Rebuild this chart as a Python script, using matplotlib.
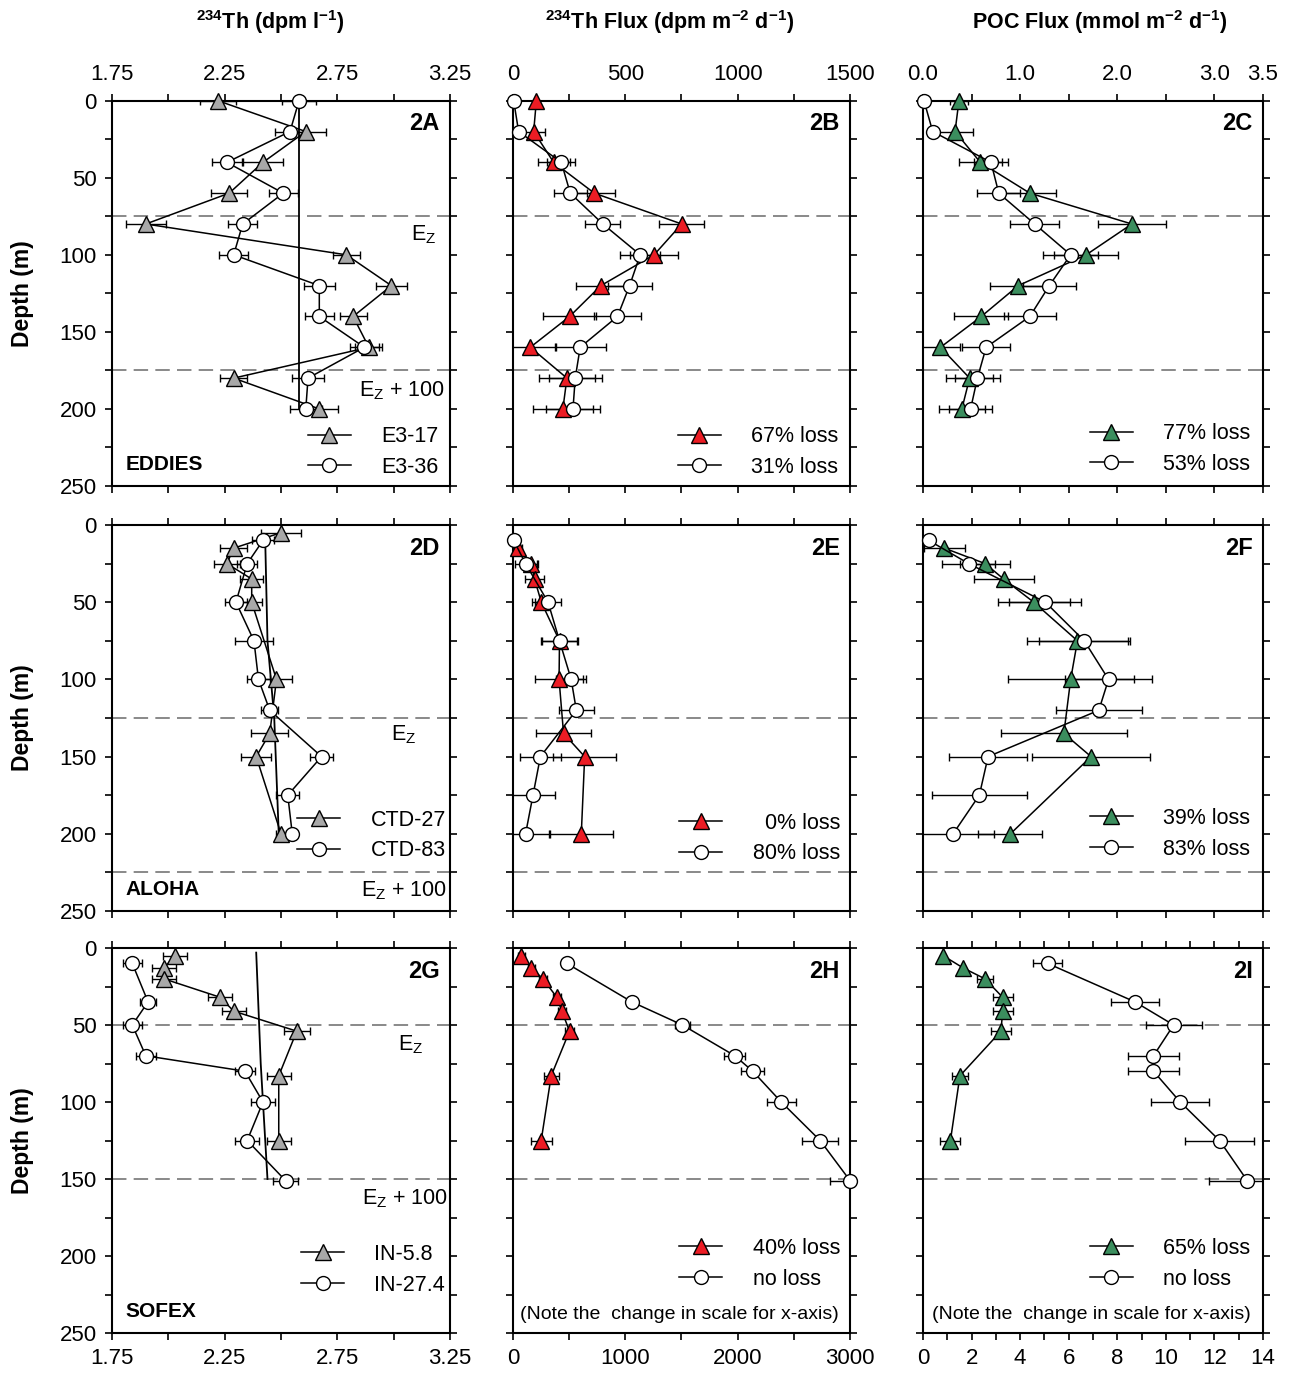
import numpy as np
import matplotlib
matplotlib.use('Agg')
import matplotlib.pyplot as plt
from matplotlib.ticker import MultipleLocator, FixedLocator

plt.rcParams['font.family'] = ['Liberation Sans', 'DejaVu Sans']

GRAY = '#a8a8a8'
RED = '#ec1c24'
GREEN = '#3b8e5e'

# ---- EDDIES (row 1) ----
eddy_depth = [0, 20, 40, 60, 80, 100, 120, 140, 160, 180, 200]
a_tri = [2.22, 2.61, 2.42, 2.27, 1.90, 2.79, 2.99, 2.82, 2.89, 2.29, 2.67]
a_tri_err = [0.08, 0.09, 0.09, 0.08, 0.09, 0.06, 0.07, 0.06, 0.06, 0.06, 0.085]
a_cir = [2.58, 2.54, 2.26, 2.51, 2.33, 2.29, 2.67, 2.67, 2.87, 2.62, 2.61]
a_cir_err = [0.075, 0.065, 0.065, 0.065, 0.065, 0.065, 0.07, 0.065, 0.065, 0.07, 0.07]
a_u238 = [2.58, 2.58]
a_u238_depth = [0, 200]

b_tri = [104, 92, 181, 362, 751, 628, 391, 252, 77, 240, 222]
b_tri_err = [0, 52, 71, 92, 99, 108, 111, 119, 115, 123, 133]
b_cir = [3, 25, 215, 255, 400, 566, 519, 465, 299, 277, 267]
b_cir_err = [0, 0, 63, 74, 78, 90, 98, 106, 114, 118, 122]

c_tri = [0.37, 0.33, 0.59, 1.10, 2.15, 1.68, 0.98, 0.60, 0.18, 0.48, 0.40]
c_tri_err = [0.09, 0.18, 0.22, 0.27, 0.35, 0.33, 0.29, 0.28, 0.20, 0.24, 0.24]
c_cir = [0.01, 0.10, 0.70, 0.78, 1.15, 1.52, 1.30, 1.10, 0.65, 0.56, 0.49]
c_cir_err = [0, 0, 0.18, 0.22, 0.25, 0.28, 0.27, 0.27, 0.25, 0.23, 0.22]

# ---- ALOHA (row 2) ----
aloha_tri_depth = [5, 15, 25, 35, 50, 100, 135, 150, 200]
aloha_cir_depth = [10, 25, 50, 75, 100, 120, 150, 175, 200]
d_tri = [2.50, 2.29, 2.26, 2.37, 2.37, 2.48, 2.45, 2.39, 2.50]
d_tri_err = [0.09, 0.06, 0.056, 0.05, 0.045, 0.067, 0.083, 0.067, 0.02]
d_cir = [2.42, 2.35, 2.30, 2.38, 2.40, 2.45, 2.68, 2.53, 2.55]
d_cir_err = [0.05, 0.045, 0.048, 0.083, 0.052, 0.037, 0.052, 0.052, 0.02]
d_u238 = [2.43, 2.44, 2.47, 2.49]
d_u238_depth = [10, 75, 125, 200]

aloha_e_tri_depth = [15, 25, 35, 50, 75, 100, 135, 150, 200]
e_tri = [22, 82, 96, 126, 207, 205, 225, 319, 304]
e_tri_err = [20, 28, 44, 40, 81, 108, 121, 139, 141]
e_cir = [3, 56, 156, 207, 259, 282, 122, 89, 56]
e_cir_err = [15, 49, 59, 79, 68, 77, 90, 96, 104]

f_tri = [0.22, 0.64, 0.83, 1.14, 1.59, 1.52, 1.45, 1.73, 0.90]
f_tri_err = [0.21, 0.26, 0.31, 0.37, 0.52, 0.65, 0.65, 0.61, 0.33]
f_cir = [0.06, 0.47, 1.26, 1.66, 1.91, 1.81, 0.67, 0.58, 0.31]
f_cir_err = [0.05, 0.27, 0.37, 0.47, 0.45, 0.44, 0.40, 0.49, 0.42]

# ---- SOFEX (row 3) ----
sofex_tri_depth = [5, 13, 20, 32, 41, 54, 83, 125]
sofex_cir_depth = [10, 35, 50, 70, 80, 100, 125, 151]
g_tri = [2.03, 1.98, 1.98, 2.23, 2.29, 2.57, 2.49, 2.49]
g_tri_err = [0.052, 0.052, 0.054, 0.052, 0.054, 0.057, 0.053, 0.053]
g_cir = [1.84, 1.91, 1.84, 1.90, 2.34, 2.42, 2.35, 2.52]
g_cir_err = [0.041, 0.035, 0.041, 0.044, 0.046, 0.052, 0.053, 0.055]
g_u238 = [2.39, 2.41, 2.44]
g_u238_depth = [3, 75, 150]

h_tri = [74, 163, 266, 390, 435, 503, 340, 251]
h_tri_err = [30, 30, 35, 35, 35, 40, 66, 95]
h_cir = [479, 1058, 1508, 1975, 2134, 2388, 2734, 3000]
h_cir_err = [0, 44, 65, 93, 103, 127, 158, 177]

i_tri = [0.83, 1.66, 2.55, 3.28, 3.28, 3.21, 1.52, 1.13]
i_tri_err = [0, 0, 0.34, 0.41, 0.41, 0.41, 0.33, 0.41]
i_cir = [5.13, 8.73, 10.32, 9.49, 9.49, 10.59, 12.21, 13.35]
i_cir_err = [0.6, 1.0, 1.15, 1.05, 1.05, 1.2, 1.42, 1.56]

ez = [75, 125, 50]
sites = ['EDDIES', 'ALOHA', 'SOFEX']
col_titles = [r'$^{\mathregular{234}}$Th (dpm l$^{\mathregular{-1}}$)',
              r'$^{\mathregular{234}}$Th Flux (dpm m$^{\mathregular{-2}}$ d$^{\mathregular{-1}}$)',
              r'POC Flux (mmol m$^{\mathregular{-2}}$ d$^{\mathregular{-1}}$)']

W, H = 1290, 1374
fig = plt.figure(figsize=(W / 100, H / 100), dpi=100)

cols = [(112, 450), (513, 850), (923, 1263)]
rows = [(100.7, 486), (525, 911), (948, 1333)]


def make_ax(r, c):
    x0, x1 = cols[c]
    y0, y1 = rows[r]
    return fig.add_axes([x0 / W, 1 - y1 / H, (x1 - x0) / W, (y1 - y0) / H])


panels = [
    # row, col, label, tri x, tri err, tri depth, cir x, cir err, cir depth, color, legend, legend anchor
    (0, 0, '2A', a_tri, a_tri_err, eddy_depth, a_cir, a_cir_err, eddy_depth, GRAY, ['E3-17', 'E3-36'], (0.965, 0.088)),
    (0, 1, '2B', b_tri, b_tri_err, eddy_depth, b_cir, b_cir_err, eddy_depth, RED, ['67% loss', '31% loss'], (0.965, 0.088)),
    (0, 2, '2C', c_tri, c_tri_err, eddy_depth, c_cir, c_cir_err, eddy_depth, GREEN, ['77% loss', '53% loss'], (0.962, 0.096)),
    (1, 0, '2D', d_tri, d_tri_err, aloha_tri_depth, d_cir, d_cir_err, aloha_cir_depth, GRAY, ['CTD-27', 'CTD-83'], (0.988, 0.196)),
    (1, 1, '2E', e_tri, e_tri_err, aloha_e_tri_depth, e_cir, e_cir_err, aloha_cir_depth, RED, ['\u20070% loss', '80% loss'], (0.97, 0.188)),
    (1, 2, '2F', f_tri, f_tri_err, aloha_e_tri_depth, f_cir, f_cir_err, aloha_cir_depth, GREEN, ['39% loss', '83% loss'], (0.962, 0.2)),
    (2, 0, '2G', g_tri, g_tri_err, sofex_tri_depth, g_cir, g_cir_err, sofex_cir_depth, GRAY, ['IN-5.8', 'IN-27.4'], (0.985, 0.164)),
    (2, 1, '2H', h_tri, h_tri_err, sofex_tri_depth, h_cir, h_cir_err, sofex_cir_depth, RED, ['40% loss', 'no loss'], (0.97, 0.18)),
    (2, 2, '2I', i_tri, i_tri_err, sofex_tri_depth, i_cir, i_cir_err, sofex_cir_depth, GREEN, ['65% loss', 'no loss'], (0.962, 0.18)),
]

xscales = {
    (0, 0): ((1.75, 3.25), [1.75, 2.25, 2.75, 3.25], 0.25),
    (0, 1): ((0, 1500), [0, 500, 1000, 1500], 250),
    (0, 2): ((0, 3.5), [0, 1, 2, 3, 3.5], 0.5),
    (1, 0): ((1.75, 3.25), [1.75, 2.25, 2.75, 3.25], 0.25),
    (1, 1): ((0, 1500), [0, 500, 1000, 1500], 250),
    (1, 2): ((0, 3.5), [0, 1, 2, 3, 3.5], 0.5),
    (2, 0): ((1.75, 3.25), [1.75, 2.25, 2.75, 3.25], 0.25),
    (2, 1): ((0, 3000), [0, 1000, 2000, 3000], 500),
    (2, 2): ((0, 14), [0, 2, 4, 6, 8, 10, 12, 14], 1),
}
xfmt = {0: '{:.2f}', 1: '{:.0f}', 2: '{:.1f}'}

u238 = {0: (a_u238, a_u238_depth), 1: (d_u238, d_u238_depth), 2: (g_u238, g_u238_depth)}
ez_text_pos = {0: ((3.19, 87), (3.23, 188)), 1: ((3.10, 136), (3.235, 237)), 2: ((3.13, 63), (3.24, 163))}

for (r, c, lab, tx, te, td, cx, ce, cd, color, leg, anchor) in panels:
    ax = make_ax(r, c)
    xlim, major, minor = xscales[(r, c)]
    ax.set_xlim(xlim)
    ax.set_ylim(250, 0)
    ax.xaxis.set_major_locator(FixedLocator(major))
    ax.xaxis.set_minor_locator(MultipleLocator(minor))
    ax.yaxis.set_major_locator(MultipleLocator(50))
    ax.yaxis.set_minor_locator(MultipleLocator(25))
    if r == 2 and c == 2:
        ax.set_xticklabels([str(v) for v in major])
    else:
        ax.set_xticklabels([xfmt[c].format(v) for v in major])
    ax.tick_params(which='both', direction='out', length=5, width=1.2,
                   top=True, bottom=True, left=True, right=True,
                   labeltop=(r == 0), labelbottom=(r == 2), labelleft=(c == 0),
                   labelsize=16, pad=6)
    for s in ax.spines.values():
        s.set_linewidth(1.5)

    for d in (ez[r], ez[r] + 100):
        ax.axhline(d, color='#808080', lw=1.3, ls=(0, (8, 4)), zorder=1)

    if c == 0:
        ux, ud = u238[r]
        ax.plot(ux, ud, color='k', lw=1.3, zorder=2)
        (p1, p2) = ez_text_pos[r]
        ax.text(p1[0], p1[1], r'E$_{\mathregular{Z}}$', ha='right', va='center', fontsize=15.5)
        ax.text(p2[0], p2[1], r'E$_{\mathregular{Z}}$ + 100', ha='right', va='center', fontsize=15.5)
        ax.text(0.04, 0.056, sites[r], transform=ax.transAxes, ha='left', va='center',
                fontsize=15, fontweight='bold')

    # error bars stay clipped to the frame, markers may sit on it
    ax.errorbar(tx, td, xerr=te, fmt='none', ecolor='k', elinewidth=1, capsize=3,
                capthick=1, zorder=2)
    ax.errorbar(cx, cd, xerr=ce, fmt='none', ecolor='k', elinewidth=1, capsize=3,
                capthick=1, zorder=2)
    ax.plot(tx, td, '-', color='k', lw=1.1, marker='^', ms=11, mfc=color, mec='k', mew=1,
            zorder=3, label=leg[0], clip_on=False)
    ax.plot(cx, cd, '-', color='k', lw=1.1, marker='o', ms=10, mfc='white', mec='k', mew=1,
            zorder=4, label=leg[1], clip_on=False)

    ax.legend(loc='center right', bbox_to_anchor=anchor, frameon=False, borderpad=0,
              borderaxespad=0, handlelength=2.0, handletextpad=1.4, labelspacing=0.45,
              fontsize=15.5)

    ax.text(0.97, 0.94, lab, transform=ax.transAxes, ha='right', va='center',
            fontsize=17, fontweight='bold')

    if r == 2 and c > 0:
        ax.text(0.495, 0.048, '(Note the  change in scale for x-axis)', transform=ax.transAxes,
                ha='center', va='center', fontsize=14)

for c, t in enumerate(col_titles):
    xc = [270, 670, 1100][c]
    fig.text(xc / W, 1 - 22 / H, t, ha='center', va='center', fontsize=15.5, fontweight='bold')

for r in range(3):
    yc = (rows[r][0] + rows[r][1]) / 2
    fig.text(22 / W, 1 - yc / H, 'Depth (m)', rotation=90, ha='center', va='center',
             fontsize=16.5, fontweight='bold')

fig.savefig('out.png', dpi=100, facecolor='white')
